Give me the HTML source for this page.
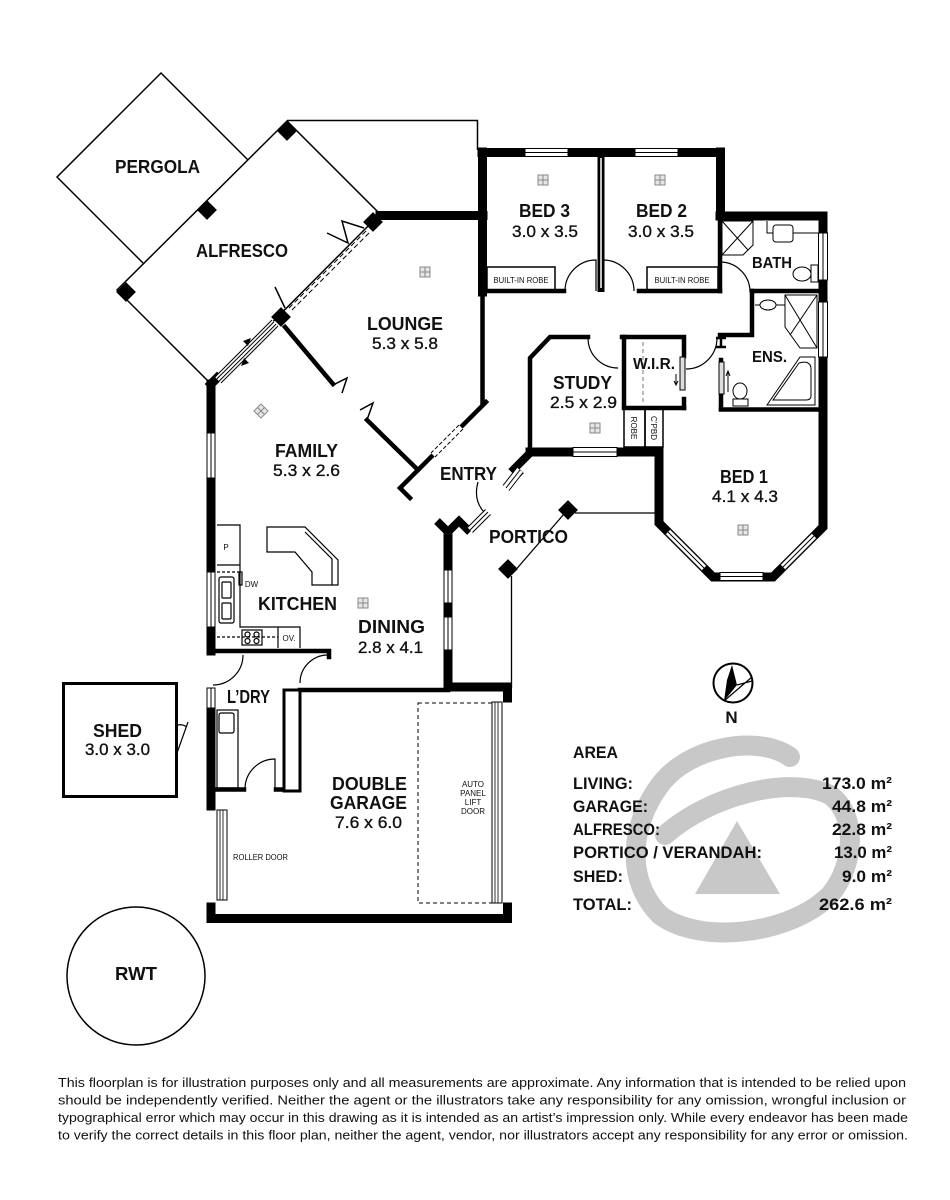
<!DOCTYPE html>
<html><head><meta charset="utf-8">
<style>
html,body{margin:0;padding:0;background:#fff;}
svg{display:block;}
text{font-family:"Liberation Sans",Arial,sans-serif;fill:#111;}
.lb{font-weight:bold;font-size:18px;}
.dm{font-size:17px;stroke:#111;stroke-width:0.35px;}
.sm{font-size:8px;}
.ar{font-weight:bold;font-size:17px;}
.dc{font-size:13px;}
</style></head><body>
<svg width="950" height="1200" viewBox="0 0 950 1200" xmlns="http://www.w3.org/2000/svg">
<rect width="950" height="1200" fill="#fff"/>

<!-- watermark -->
<g fill="none" stroke="#c8c8c8" stroke-width="20" stroke-linecap="round">
<path d="M790,757 C760,735 690,745 660,785 C630,825 625,880 660,915 C700,945 790,935 830,895 C855,865 858,815 830,795 C790,775 710,795 665,835"/>
</g>
<polygon points="737,821 695,894 780,894" fill="#c8c8c8"/>

<!-- pergola / alfresco -->
<polygon points="161,73 265,177 161,281 57,177" fill="#fff" stroke="#000" stroke-width="1.5"/>
<polygon points="287,121 380,214 211,384 117,290" fill="#fff" stroke="#000" stroke-width="1.5"/>
<polyline points="287,120.5 477.5,120.5 477.5,150" fill="none" stroke="#000" stroke-width="1.5"/>
<g fill="#000">
<rect x="-7" y="-7" width="14" height="14" transform="translate(287,131) rotate(45)"/>
<rect x="-7" y="-7" width="14" height="14" transform="translate(207,210) rotate(45)"/>
<rect x="-7" y="-7" width="14" height="14" transform="translate(126,292) rotate(45)"/>
<rect x="-7" y="-7" width="14" height="14" transform="translate(373,222) rotate(45)"/>
<rect x="-7" y="-7" width="14" height="14" transform="translate(281,317) rotate(45)"/>
<rect x="-7" y="-7" width="14" height="14" transform="translate(508,569) rotate(45)"/>
<rect x="-7" y="-7" width="14" height="14" transform="translate(568,510) rotate(45)"/>
</g>

<!-- external walls -->
<g fill="none" stroke="#000" stroke-width="9" stroke-linecap="square" stroke-linejoin="miter">
<path d="M380,215.5 H483"/>
<path d="M482.5,152 V292"/>
<path d="M482,152.5 H720"/>
<path d="M720.5,152 V216"/>
<path d="M720,216 H823"/>
<path d="M823,216 V527 L773,577 H713 L659,523 V452 H530"/>
<path d="M211,384 V651"/>
<path d="M211,711 V806"/>
<path d="M211,907 V918.5 H507.5 V907"/>
<path d="M448,533 V687 H507.5 V698"/>
<path d="M211,384 L217,378"/>
</g>
<!-- internal walls -->
<g fill="none" stroke="#000" stroke-width="4.5" stroke-linecap="square">
<path d="M482.5,290 V402"/>
<path d="M486,402 L400,488 L410,498"/>
<path d="M285,327 L333,384"/>
<path d="M367,420 L418,470"/>
<path d="M482,291 H564"/>
<path d="M639,291 H720"/>
<path d="M720,216 V291"/>
<path d="M752,291 H823"/>
<path d="M752,291 V335 H720"/>
<path d="M530,452 V358 L550,337 H588"/>
<path d="M624,337 V408 H684"/>
<path d="M622,337 H684 V356"/>
<path d="M684,399 V408"/>
<path d="M721,360 V409"/>
<path d="M721,409.5 H823"/>
<path d="M211,651 H329 V657"/>
<path d="M300,690 H448"/>
<path d="M213,789.5 H244"/>
<path d="M276,789.5 H299"/>
</g>
<path d="M601,152 V292" stroke="#000" stroke-width="7"/>
<path d="M601,158 V288" stroke="#fff" stroke-width="1.5"/>
<path d="M716,338 H726 M721,338 V347 M716,347 H726" stroke="#000" stroke-width="2.5" fill="none"/>
<!-- entry zig walls -->
<path d="M437,521 L448,532 L459,521 L470,532" fill="none" stroke="#000" stroke-width="8"/>
<path d="M531,452 L514,469 L521,476" fill="none" stroke="#000" stroke-width="8"/>
<!-- laundry hollow wall -->
<rect x="284" y="690" width="16" height="101" fill="#fff" stroke="#000" stroke-width="3"/>

<!-- windows (horizontal) -->
<g fill="#fff" stroke="#000" stroke-width="1">
<rect x="525" y="148.5" width="43" height="8"/>
<rect x="635" y="148.5" width="43" height="8"/>
<rect x="720" y="572.5" width="43" height="8"/>
<rect x="573" y="447.5" width="44" height="9"/>
<rect x="818.5" y="233" width="9" height="47"/>
<rect x="818.5" y="302" width="9" height="55"/>
<rect x="207" y="433" width="8" height="45"/>
<rect x="207" y="572" width="8" height="55"/>
<rect x="207" y="688" width="8" height="20"/>
<rect x="444" y="570" width="8" height="33"/>
<rect x="444" y="617" width="8" height="33"/>
</g>
<g stroke="#000" stroke-width="1">
<path d="M525,152.5 H568 M635,152.5 H678 M720,576.5 H763 M573,452 H617"/>
<path d="M823,233 V280 M823,302 V357 M211,433 V478 M211,572 V627 M211,688 V708 M448,570 V603 M448,617 V650"/>
</g>
<!-- diagonal windows -->
<g>
<path d="M668,532 L704,568" stroke="#fff" stroke-width="8"/>
<path d="M670.5,529.5 L706.5,565.5 M665.5,534.5 L701.5,570.5 M668,532 L704,568" stroke="#000" stroke-width="1"/>
<path d="M783,567 L814,536" stroke="#fff" stroke-width="8"/>
<path d="M780.5,564.5 L811.5,533.5 M785.5,569.5 L816.5,538.5 M783,567 L814,536" stroke="#000" stroke-width="1"/>
<!-- entry windows -->
<path d="M470,530 L488,512" stroke="#fff" stroke-width="8"/>
<path d="M467.5,527.5 L485.5,509.5 M472.5,532.5 L490.5,514.5 M470,530 L488,512" stroke="#000" stroke-width="1"/>
<path d="M520,470 L506,488" stroke="#fff" stroke-width="8"/>
<path d="M517,467.5 L503,485.5 M523,472.5 L509,490.5 M520,470 L506,488" stroke="#000" stroke-width="1"/>
<!-- alfresco sliding door -->
<path d="M275,323 L218,380" stroke="#fff" stroke-width="9"/>
<path d="M272,320 L215,377 M278,326 L221,383 M273.9,321.9 L216.9,378.9 M276.1,324.1 L219.1,381.1" stroke="#000" stroke-width="1"/>
<path d="M243,341 L251,338 L248,346 Z M249,363 L241,366 L244,358 Z" fill="#000"/>
<!-- alfresco/lounge dashed -->
<path d="M366,231 L289,308 M369,233 L292,310" stroke="#000" stroke-width="1" stroke-dasharray="5,3"/>
<!-- entry dashed -->
<path d="M461,427 L433,455" stroke="#fff" stroke-width="6"/>
<path d="M459,425 L431,453 M463,429 L435,457" stroke="#000" stroke-width="1" stroke-dasharray="4,2"/>
</g>

<!-- folding door marks -->
<g fill="none" stroke="#000" stroke-width="1.5">
<polyline points="327,233 348,243 342,221 364,228"/>
<path d="M275,287 L285,308"/>
<polyline points="333,385 347,378 342,393"/>
<polyline points="367,420 373,403 360,410"/>
</g>

<!-- door arcs -->
<g fill="none" stroke="#000" stroke-width="1.2">
<path d="M565,291 A31,31 0 0 1 596,260 V291"/>
<path d="M634,291 A31,31 0 0 0 603,260 V291"/>
<path d="M720,262 A30,30 0 0 1 750,292"/>
<path d="M588,338 A30,30 0 0 0 618,368"/>
<path d="M686,369 A31,31 0 0 0 717,338"/>
<path d="M213,685 A30,30 0 0 0 243,655"/>
<path d="M328,655 A28,28 0 0 0 300,683"/>
<path d="M245,789 A30,30 0 0 1 275,759 V789"/>
<path d="M478,482 Q473,500 484,512"/>
<path d="M177,753 L188,722 M177,725 Q183,724 187,727"/>
</g>

<!-- portico thin lines -->
<g fill="none" stroke="#000" stroke-width="1.3">
<path d="M511.5,576 V688"/>
<path d="M513,573 L564,514"/>
<path d="M575,513 H655"/>
</g>

<!-- robes, wir etc -->
<g fill="none" stroke="#000" stroke-width="1.5">
<rect x="487" y="267" width="68" height="24"/>
<rect x="647" y="267" width="71" height="24"/>
<rect x="624" y="409" width="21" height="38"/>
<rect x="645" y="409" width="18" height="38"/>
</g>
<path d="M643,342 V405" stroke="#777" stroke-width="1" stroke-dasharray="4,3"/>
<g stroke="#000" stroke-width="1" fill="#ddd">
<rect x="680" y="357" width="5" height="33"/>
<rect x="719" y="362" width="5" height="32"/>
</g>
<path d="M676,374 L676,384 M674,381 L676,385 L678,381" stroke="#000" stroke-width="1" fill="none"/>
<path d="M728,392 L728,372 M726,376 L728,371 L730,376" stroke="#000" stroke-width="1" fill="none"/>

<!-- bath fixtures -->
<g fill="none" stroke="#000" stroke-width="1">
<polygon points="722,221 753,221 753,245 743,255 722,255"/>
<path d="M722,221 L748,250 M753,221 L722,255"/>
<path d="M767,221 V233 H773 M793,233 H818"/>
<rect x="773" y="225" width="20" height="17" rx="3"/>
<rect x="811" y="265" width="7" height="17"/>
<ellipse cx="802" cy="274" rx="9" ry="7"/>
<ellipse cx="768" cy="305" rx="8" ry="5"/>
<path d="M755,305 H760 M776,305 H785"/>
<polygon points="785,295 817,295 817,348 800,348 785,327"/>
<path d="M785,295 L817,348 M817,295 L790,335"/>
<polygon points="767,405 800,357 815,357 815,405"/>
<path d="M773,400 L799,363 Q810,360 811,368 L811,396 Q811,400 806,400 Z"/>
<ellipse cx="740" cy="391" rx="7" ry="8"/>
<rect x="733" y="399" width="15" height="7"/>
</g>

<!-- kitchen -->
<g fill="none" stroke="#000" stroke-width="1.2">
<path d="M217,525 H240 V627 H300 V648"/>
<path d="M217,565 H240"/>
<path d="M217,572 H240" stroke-dasharray="3,2"/>
<rect x="239" y="572" width="3" height="13"/>
<rect x="219" y="577" width="15" height="46" rx="2"/>
<rect x="222" y="582" width="9" height="16" rx="1"/>
<rect x="222" y="603" width="9" height="16" rx="1"/>
<path d="M217,637 H278" stroke-dasharray="3,2"/>
<rect x="242" y="630" width="20" height="15"/>
<circle cx="247.5" cy="634.5" r="2.5"/><circle cx="256.5" cy="634.5" r="2.5"/>
<circle cx="247.5" cy="641" r="2.5"/><circle cx="256.5" cy="641" r="2.5"/>
<path d="M278,627 V648"/>
<polygon points="267,527 305,527 338,560 338,585 312,585 312,572 295,552 267,552"/>
<path d="M305,532 L332,559 V585"/>
<!-- laundry -->
<rect x="217" y="710" width="21" height="78"/>
<rect x="219" y="713" width="15" height="20" rx="2"/>
</g>

<!-- garage -->
<rect x="418" y="703" width="74" height="200" fill="none" stroke="#000" stroke-width="1" stroke-dasharray="4,3"/>
<rect x="492" y="702" width="10" height="201" fill="#fff" stroke="#000" stroke-width="1"/>
<path d="M495,702 V903 M498,702 V903" stroke="#000" stroke-width="0.8"/>
<rect x="217" y="810" width="10" height="90" fill="#fff" stroke="#000" stroke-width="1"/>
<path d="M220,810 V900 M223,810 V900" stroke="#000" stroke-width="0.8"/>

<!-- shed and tank -->
<rect x="63.5" y="683.5" width="113" height="113" fill="none" stroke="#000" stroke-width="3"/>
<circle cx="136" cy="976" r="69" fill="none" stroke="#000" stroke-width="1.5"/>

<!-- icons -->
<g fill="#e6e6e6" stroke="#888" stroke-width="1">
<g transform="translate(425,272)"><rect x="-5" y="-5" width="10" height="10"/><path d="M0,-5 V5 M-5,0 H5"/></g>
<g transform="translate(543,180)"><rect x="-5" y="-5" width="10" height="10"/><path d="M0,-5 V5 M-5,0 H5"/></g>
<g transform="translate(660,180)"><rect x="-5" y="-5" width="10" height="10"/><path d="M0,-5 V5 M-5,0 H5"/></g>
<g transform="translate(595,428)"><rect x="-5" y="-5" width="10" height="10"/><path d="M0,-5 V5 M-5,0 H5"/></g>
<g transform="translate(743,530)"><rect x="-5" y="-5" width="10" height="10"/><path d="M0,-5 V5 M-5,0 H5"/></g>
<g transform="translate(363,603)"><rect x="-5" y="-5" width="10" height="10"/><path d="M0,-5 V5 M-5,0 H5"/></g>
<g transform="translate(261,411) rotate(45)"><rect x="-5" y="-5" width="10" height="10"/><path d="M0,-5 V5 M-5,0 H5"/></g>
</g>

<!-- north arrow -->
<circle cx="733" cy="683" r="19.5" fill="#fff" stroke="#000" stroke-width="2"/>
<polygon points="732,665 737,685 724,701 727,680" fill="#000"/>
<path d="M724,701 L752,677 M737,685 L752,681" stroke="#000" stroke-width="1.2"/>
<text x="731.5" y="723" text-anchor="middle" font-weight="bold" font-size="17">N</text>

<!-- room labels -->
<g class="lb" text-anchor="middle">
<text x="157.5" y="173" textLength="85" lengthAdjust="spacingAndGlyphs">PERGOLA</text>
<text x="242" y="257" textLength="92" lengthAdjust="spacingAndGlyphs">ALFRESCO</text>
<text x="405" y="330" textLength="76" lengthAdjust="spacingAndGlyphs">LOUNGE</text>
<text x="306.5" y="457" textLength="63" lengthAdjust="spacingAndGlyphs">FAMILY</text>
<text x="468.5" y="480" textLength="57" lengthAdjust="spacingAndGlyphs">ENTRY</text>
<text x="528.5" y="543" textLength="79" lengthAdjust="spacingAndGlyphs">PORTICO</text>
<text x="582.5" y="389" textLength="59" lengthAdjust="spacingAndGlyphs">STUDY</text>
<text x="744" y="483" textLength="48" lengthAdjust="spacingAndGlyphs">BED 1</text>
<text x="544.5" y="217" textLength="51" lengthAdjust="spacingAndGlyphs">BED 3</text>
<text x="661.5" y="217" textLength="51" lengthAdjust="spacingAndGlyphs">BED 2</text>
<text x="297.5" y="610" textLength="79" lengthAdjust="spacingAndGlyphs">KITCHEN</text>
<text x="391.5" y="633" textLength="67" lengthAdjust="spacingAndGlyphs">DINING</text>
<text x="248.5" y="703" textLength="43" lengthAdjust="spacingAndGlyphs">L’DRY</text>
<text x="369.5" y="790" textLength="75" lengthAdjust="spacingAndGlyphs">DOUBLE</text>
<text x="368.5" y="809" textLength="77" lengthAdjust="spacingAndGlyphs">GARAGE</text>
<text x="117.5" y="737" textLength="49" lengthAdjust="spacingAndGlyphs">SHED</text>
<text x="136" y="980" textLength="42" lengthAdjust="spacingAndGlyphs">RWT</text>
</g>
<g font-weight="bold" font-size="15.5" text-anchor="middle">
<text x="654" y="369" textLength="42" lengthAdjust="spacingAndGlyphs">W.I.R.</text>
<text x="769.5" y="362" textLength="35" lengthAdjust="spacingAndGlyphs">ENS.</text>
<text x="772" y="268" textLength="40" lengthAdjust="spacingAndGlyphs">BATH</text>
</g>
<g class="dm" text-anchor="middle">
<text x="405" y="349" textLength="66" lengthAdjust="spacingAndGlyphs">5.3 x 5.8</text>
<text x="306.5" y="476" textLength="67" lengthAdjust="spacingAndGlyphs">5.3 x 2.6</text>
<text x="583.5" y="408" textLength="67" lengthAdjust="spacingAndGlyphs">2.5 x 2.9</text>
<text x="745" y="502" textLength="66" lengthAdjust="spacingAndGlyphs">4.1 x 4.3</text>
<text x="545" y="237" textLength="66" lengthAdjust="spacingAndGlyphs">3.0 x 3.5</text>
<text x="661" y="237" textLength="66" lengthAdjust="spacingAndGlyphs">3.0 x 3.5</text>
<text x="390.5" y="653" textLength="65" lengthAdjust="spacingAndGlyphs">2.8 x 4.1</text>
<text x="368.5" y="828" textLength="67" lengthAdjust="spacingAndGlyphs">7.6 x 6.0</text>
<text x="117.5" y="755" textLength="65" lengthAdjust="spacingAndGlyphs">3.0 x 3.0</text>
</g>
<g class="sm" text-anchor="middle">
<text x="521" y="283" textLength="55" lengthAdjust="spacingAndGlyphs">BUILT-IN ROBE</text>
<text x="682" y="283" textLength="55" lengthAdjust="spacingAndGlyphs">BUILT-IN ROBE</text>
<text x="473" y="787">AUTO</text>
<text x="473" y="796">PANEL</text>
<text x="473" y="805">LIFT</text>
<text x="473" y="814">DOOR</text>
<text x="260.5" y="860" textLength="55" lengthAdjust="spacingAndGlyphs">ROLLER DOOR</text>
<text x="226" y="550">P</text>
<text x="251.5" y="587">DW</text>
<text x="289" y="641">OV.</text>
<text x="0" y="0" transform="translate(631,428) rotate(90)">ROBE</text>
<text x="0" y="0" transform="translate(651,428) rotate(90)">C’PBD</text>
</g>

<!-- area table -->
<g class="ar">
<text x="573" y="758" textLength="45" lengthAdjust="spacingAndGlyphs">AREA</text>
<text x="573" y="789" textLength="60" lengthAdjust="spacingAndGlyphs">LIVING:</text>
<text x="573" y="812" textLength="75" lengthAdjust="spacingAndGlyphs">GARAGE:</text>
<text x="573" y="835" textLength="87" lengthAdjust="spacingAndGlyphs">ALFRESCO:</text>
<text x="573" y="858" textLength="189" lengthAdjust="spacingAndGlyphs">PORTICO / VERANDAH:</text>
<text x="573" y="882" textLength="50" lengthAdjust="spacingAndGlyphs">SHED:</text>
<text x="573" y="910" textLength="59" lengthAdjust="spacingAndGlyphs">TOTAL:</text>
</g>
<g class="ar" text-anchor="end">
<text x="892" y="789" textLength="70" lengthAdjust="spacingAndGlyphs">173.0 m²</text>
<text x="892" y="812" textLength="60" lengthAdjust="spacingAndGlyphs">44.8 m²</text>
<text x="892" y="835" textLength="60" lengthAdjust="spacingAndGlyphs">22.8 m²</text>
<text x="892" y="858" textLength="58" lengthAdjust="spacingAndGlyphs">13.0 m²</text>
<text x="892" y="882" textLength="50" lengthAdjust="spacingAndGlyphs">9.0 m²</text>
<text x="892" y="910" textLength="73" lengthAdjust="spacingAndGlyphs">262.6 m²</text>
</g>

<!-- disclaimer -->
<g class="dc">
<text x="58" y="1087" textLength="848" lengthAdjust="spacingAndGlyphs">This floorplan is for illustration purposes only and all measurements are approximate. Any information that is intended to be relied upon</text>
<text x="58" y="1104.5" textLength="848" lengthAdjust="spacingAndGlyphs">should be independently verified. Neither the agent or the illustrators take any responsibility for any omission, wrongful inclusion or</text>
<text x="58" y="1122" textLength="850" lengthAdjust="spacingAndGlyphs">typographical error which may occur in this drawing as it is intended as an artist’s impression only. While every endeavor has been made</text>
<text x="58" y="1139.5" textLength="850" lengthAdjust="spacingAndGlyphs">to verify the correct details in this floor plan, neither the agent, vendor, nor illustrators accept any responsibility for any error or omission.</text>
</g>
</svg>
</body></html>
